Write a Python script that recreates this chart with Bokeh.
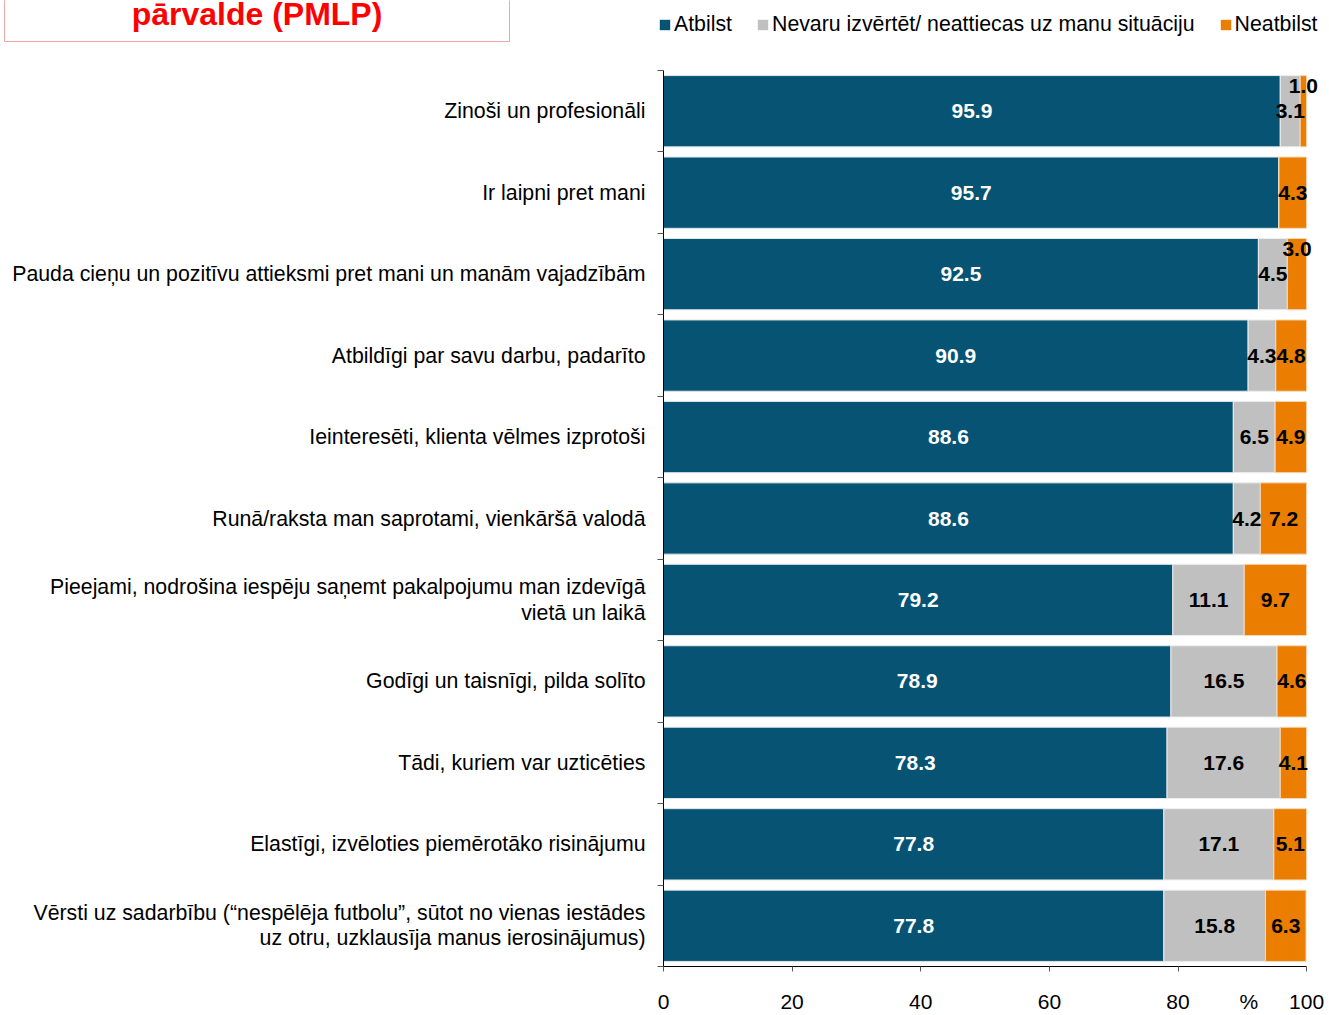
from bokeh.plotting import figure
from bokeh.layouts import column
from bokeh.models import (ColumnDataSource, Range1d, FixedTicker, Legend, LegendItem, Label)
from bokeh.core.properties import value
from bokeh.embed import file_html
from bokeh.resources import INLINE

categories = [
    "Zinoši un profesionāli",
    "Ir laipni pret mani",
    "Pauda cieņu un pozitīvu attieksmi pret mani un manām vajadzībām",
    "Atbildīgi par savu darbu, padarīto",
    "Ieinteresēti, klienta vēlmes izprotoši",
    "Runā/raksta man saprotami, vienkāršā valodā",
    "Pieejami, nodrošina iespēju saņemt pakalpojumu man izdevīgā\nvietā un laikā",
    "Godīgi un taisnīgi, pilda solīto",
    "Tādi, kuriem var uzticēties",
    "Elastīgi, izvēloties piemērotāko risinājumu",
    "Vērsti uz sadarbību (“nespēlēja futbolu”, sūtot no vienas iestādes\nuz otru, uzklausīja manus ierosinājumus)",
]
atbilst = [95.9, 95.7, 92.5, 90.9, 88.6, 88.6, 79.2, 78.9, 78.3, 77.8, 77.8]
nevaru = [3.1, 0.0, 4.5, 4.3, 6.5, 4.2, 11.1, 16.5, 17.6, 17.1, 15.8]
neatbilst = [1.0, 4.3, 3.0, 4.8, 4.9, 7.2, 9.7, 4.6, 4.1, 5.1, 6.3]
series_names = ["Atbilst", "Nevaru izvērtēt/ neattiecas uz manu situāciju", "Neatbilst"]
x_ticks = [0, 20, 40, 60, 80, 100]
unit_label = "%"
unit_pos = 91
title_text = "pārvalde (PMLP)"

BLUE = "#065374"
GRAY = "#C0C0C0"
ORANGE = "#EB7D00"
FONT = "Liberation Sans"
W = 1329

n = len(categories)
ys = [n - 0.5 - i for i in range(n)]

# ---------------- header (title box + legend) ----------------
top = figure(width=W, height=70, output_backend="svg", toolbar_location=None,
             x_range=Range1d(0, W), y_range=Range1d(70, 0),
             min_border=0, min_border_left=0, min_border_right=0, min_border_top=0, min_border_bottom=0)
top.frame_align = False
top.axis.visible = False
top.grid.visible = False
top.outline_line_color = None
top.quad(left=[4], right=[509], top=[-5], bottom=[41], fill_color=None, line_color="#F3A4A4", line_width=1)
top.add_layout(Label(x=256.5, y=13, text=title_text, text_align="center", text_baseline="alphabetic",
                     text_font=FONT, text_font_size="32px", text_font_style="bold", text_color="#FF0000"))
# legend proxies (zero-size, never visible themselves)
proxy = ColumnDataSource(dict(y=[-100], l=[0], r=[0]))
d1 = top.hbar(y="y", left="l", right="r", height=0, source=proxy, fill_color=BLUE, line_color=None)
d2 = top.hbar(y="y", left="l", right="r", height=0, source=proxy, fill_color=GRAY, line_color=None)
d3 = top.hbar(y="y", left="l", right="r", height=0, source=proxy, fill_color=ORANGE, line_color=None)
legend = Legend(items=[LegendItem(label=series_names[0], renderers=[d1]),
                       LegendItem(label=series_names[1], renderers=[d2]),
                       LegendItem(label=series_names[2], renderers=[d3])],
                orientation="horizontal", location=(658, 33),
                glyph_width=13, glyph_height=13, label_standoff=3, spacing=24,
                padding=0, margin=0, border_line_color=None, background_fill_alpha=0,
                label_text_font=FONT, label_text_font_size="21.3px", label_height=21,
                label_text_color="black")
top.add_layout(legend, "center")

# ---------------- main chart ----------------
p = figure(width=W, height=945, output_backend="svg", toolbar_location=None,
           x_range=Range1d(0, 102), y_range=Range1d(0, n),
           min_border_left=663, min_border_right=10, min_border_top=0, min_border_bottom=38)
p.frame_align = False
p.outline_line_color = None
p.grid.grid_line_color = None

a_left = [0.0] * n
a_right = atbilst
g_left = a_right
g_right = [a + g for a, g in zip(atbilst, nevaru)]
o_left = g_right
o_right = [a + g + o for a, g, o in zip(atbilst, nevaru, neatbilst)]

src = ColumnDataSource(dict(y=ys, al=a_left, ar=a_right, gl=g_left, gr=g_right, ol=o_left, orr=o_right))
H = 0.875
p.hbar(y="y", left="al", right="ar", height=H, source=src, fill_color=BLUE, line_color="#dfe6ea", line_width=1)
p.hbar(y="y", left="gl", right="gr", height=H, source=src, fill_color=GRAY, line_color="#eeeeee", line_width=1)
p.hbar(y="y", left="ol", right="orr", height=H, source=src, fill_color=ORANGE, line_color="#f5d9b8", line_width=1)

# value labels
lx, ly, lt, lc, lyo = [], [], [], [], []
for i in range(n):
    lx.append((a_left[i] + a_right[i]) / 2); ly.append(ys[i]); lt.append(f"{atbilst[i]:.1f}"); lc.append("white"); lyo.append(0)
    if nevaru[i] > 0:
        lx.append((g_left[i] + g_right[i]) / 2); ly.append(ys[i]); lt.append(f"{nevaru[i]:.1f}"); lc.append("black"); lyo.append(0)
    small = neatbilst[i] <= 3.0
    lx.append((o_left[i] + o_right[i]) / 2); ly.append(ys[i]); lt.append(f"{neatbilst[i]:.1f}"); lc.append("black")
    lyo.append(-25 if small else 0)
lsrc = ColumnDataSource(dict(x=lx, y=ly, t=lt, c=lc, yo=lyo))
p.text(x="x", y="y", text="t", text_color="c", y_offset="yo", source=lsrc,
       text_align="center", text_baseline="middle", text_font=value(FONT),
       text_font_size="21px", text_font_style="bold")

# y axis: labels at category centres, tick marks at category boundaries
yax = p.yaxis[0]
yax.ticker = FixedTicker(ticks=ys, minor_ticks=list(range(n + 1)))
yax.major_label_overrides = {y: c for y, c in zip(ys, categories)}
yax.major_tick_line_color = None
yax.major_tick_out = 0
yax.major_tick_in = 0
yax.minor_tick_out = 6
yax.minor_tick_in = 0
yax.minor_tick_line_color = "#555555"
yax.axis_line_color = "black"
yax.major_label_text_font = FONT
yax.major_label_text_font_size = "21.3px"
yax.major_label_text_color = "black"
yax.major_label_text_line_height = 1.05
yax.major_label_standoff = 12

# x axis: tick marks drawn as minor ticks so that the "%" label gets no mark
xax = p.xaxis[0]
xax.bounds = (0, 100)
xax.ticker = FixedTicker(ticks=x_ticks + [unit_pos], minor_ticks=x_ticks)
xax.major_label_overrides = {unit_pos: unit_label}
xax.major_tick_line_color = None
xax.major_tick_out = 0
xax.major_tick_in = 0
xax.minor_tick_out = 5
xax.minor_tick_in = 0
xax.minor_tick_line_color = "#555555"
xax.axis_line_color = "black"
xax.major_label_text_font = FONT
xax.major_label_text_font_size = "21px"
xax.major_label_text_color = "black"
xax.major_label_standoff = 18

layout = column(top, p, spacing=0)
open("out.html", "w").write(file_html(layout, INLINE))
